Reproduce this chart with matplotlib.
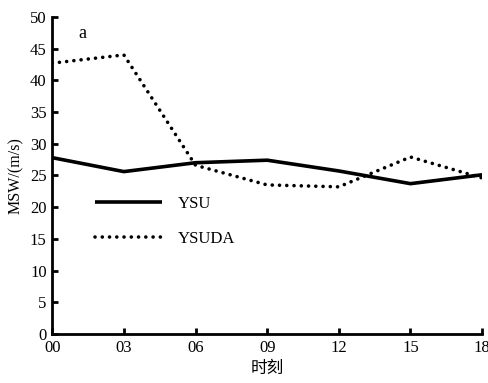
import matplotlib
matplotlib.use("Agg")
import matplotlib.pyplot as plt

times = ["00", "03", "06", "09", "12", "15", "18"]
ysu = [27.8, 25.6, 27.0, 27.4, 25.7, 23.7, 25.1]
ysuda = [42.7, 44.0, 26.6, 23.5, 23.2, 27.9, 24.6]
yticks = [0, 5, 10, 15, 20, 25, 30, 35, 40, 45, 50]

plt.rcParams['font.family'] = ['Liberation Serif', 'Noto Sans CJK SC']

fig = plt.figure(figsize=(4.88, 3.83), dpi=100)
ax = fig.add_axes([0.107, 0.128, 0.881, 0.828])
x = list(range(len(times)))
ax.plot(x, ysu, color='black', lw=2.6, label='YSU', solid_capstyle='butt')
ax.plot(x, ysuda, color='black', lw=2.6, linestyle=(0, (0.01, 2.0)),
        dash_capstyle='round', label='YSUDA')
ax.set_xlim(0, len(times) - 1)
ax.set_ylim(0, 50)
ax.set_xticks(x)
ax.set_xticklabels(times)
ax.set_yticks(yticks)
for s in ['top', 'right']:
    ax.spines[s].set_visible(False)
for s in ['left', 'bottom']:
    ax.spines[s].set_linewidth(2.0)
ax.tick_params(direction='in', length=4, width=2.0, labelsize=12, pad=4)
ax.set_xlabel('时刻', fontsize=12, family=['Noto Sans CJK SC'], labelpad=3)
ax.set_ylabel('MSW/(m/s)', fontsize=11.5, labelpad=4)
ax.text(0.06, 0.975, 'a', transform=ax.transAxes, fontsize=13, va='top', ha='left')
ax.legend(loc='upper left', bbox_to_anchor=(0.1, 0.435), frameon=False,
          fontsize=12, handlelength=4.0, handletextpad=0.95, labelspacing=1.15,
          borderpad=0, borderaxespad=0)
fig.savefig('out.png', dpi=100)
